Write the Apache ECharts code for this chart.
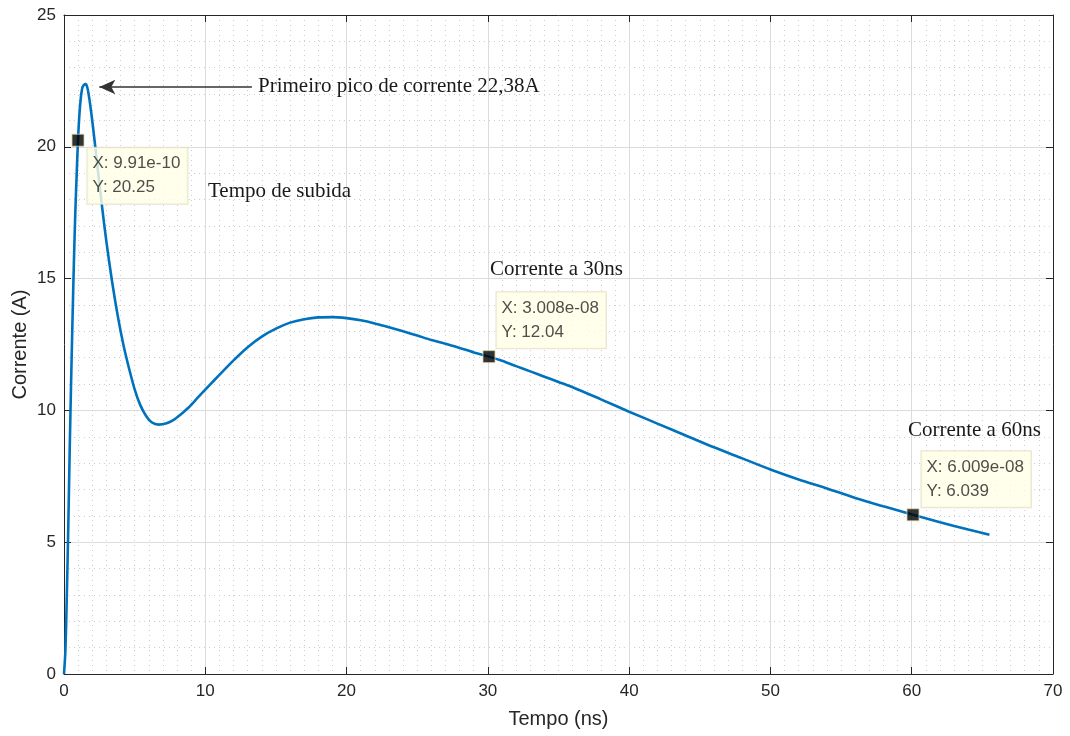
<!DOCTYPE html>
<html>
<head>
<meta charset="utf-8">
<script src="https://cdn.jsdelivr.net/npm/echarts@6/dist/echarts.min.js"></script>
<style>
  html, body { margin: 0; padding: 0; background: #fff; }
  #chart { width: 1070px; height: 736px; }
</style>
</head>
<body>
<div id="chart"></div>
<script>
// Current waveform: time in ns, current in A
const timeNs = [0, 0.1, 0.2, 0.3, 0.4, 0.5, 0.6, 0.7, 0.8, 0.9, 0.991, 1.1, 1.2, 1.3, 1.4, 1.53, 1.65, 1.8, 1.95,
  2.15, 2.4, 2.7, 3.0, 3.4, 3.8, 4.2, 4.6, 5.0, 5.4, 5.8, 6.2, 6.7, 7.2, 7.7, 8.2, 8.8, 9.5, 10.2, 11,
  12, 13, 14, 15, 16, 17, 18, 19, 20, 21, 22, 23, 24, 25, 26, 27, 28, 29, 30.08, 31, 32, 33, 34, 35, 36,
  38, 40, 42, 44, 46, 48, 50, 52, 54, 56, 58, 60.09, 62, 64, 65.5];
const currentA = [0, 0.9, 3.0, 5.5, 8.4, 11.0, 13.4, 15.6, 17.5, 19.0, 20.25, 21.3, 21.9, 22.25, 22.34, 22.38, 22.25, 21.8, 21.2,
  20.3, 19.1, 17.7, 16.4, 14.9, 13.6, 12.5, 11.6, 10.8, 10.2, 9.8, 9.55, 9.46, 9.5, 9.62, 9.82, 10.1, 10.5, 10.9, 11.35,
  11.9, 12.4, 12.8, 13.1, 13.33, 13.46, 13.53, 13.54, 13.5, 13.42, 13.3, 13.15, 13.0, 12.84, 12.67, 12.53, 12.37, 12.2, 12.04, 11.88, 11.68, 11.48, 11.28, 11.08, 10.88,
  10.42, 9.95, 9.5, 9.05, 8.6, 8.18, 7.76, 7.38, 7.04, 6.68, 6.36, 6.039, 5.76, 5.48, 5.28];

// Data tips (time in seconds, current in A)
const tipTimeS = [9.91e-10, 3.008e-8, 6.009e-8];
const tipCurrent = [20.25, 12.04, 6.039];

// Text notes
const noteTexts = ['Primeiro pico de corrente 22,38A', 'Tempo de subida', 'Corrente a 30ns', 'Corrente a 60ns'];

// Axis ticks
const xTicks = { min: 0, max: 70, step: 10 };
const yTicks = { min: 0, max: 25, step: 5 };

function fmtExp(v) {
  const e = Math.floor(Math.log10(Math.abs(v)));
  let m = (v / Math.pow(10, e)).toPrecision(4);
  m = m.replace(/\.?0+$/, '');
  const sign = e < 0 ? '-' : '+';
  const ae = Math.abs(e);
  return m + 'e' + sign + (ae < 10 ? '0' + ae : String(ae));
}
function fmtVal(v) {
  return String(parseFloat(v.toPrecision(4)));
}

const curve = timeNs.map((t, i) => [t, currentA[i]]);
const tips = tipTimeS.map((s, i) => [s * 1e9, tipCurrent[i]]);

const axisColor = '#262626';
const sans = 'Liberation Sans, Arial, sans-serif';
const tickFont = { color: '#262626', fontFamily: sans, fontSize: 17 };
const nameFont = { color: '#262626', fontFamily: sans, fontSize: 20 };
const noteFont = { color: '#1a1a1a', fontFamily: 'Liberation Serif, Times New Roman, serif', fontSize: 21 };

const tipLabelBase = {
  show: true,
  formatter: p => 'X: ' + fmtExp(tipTimeS[p.dataIndex]) + '\nY: ' + fmtVal(tipCurrent[p.dataIndex]),
  backgroundColor: '#ffffe6',
  borderColor: '#dedcc0',
  borderWidth: 1,
  padding: [4, 7, 4, 5],
  color: '#222',
  fontFamily: sans,
  fontSize: 17,
  lineHeight: 24,
  align: 'left',
  verticalAlign: 'top'
};

const tipOffsets = [[16, 14], [14, -58], [15, -57]];

const minorGrid = { show: true, lineStyle: { color: '#cdcdcd', width: 1, type: [1, 4] } };

const chart = echarts.init(document.getElementById('chart'), null, { renderer: 'canvas' });
chart.setOption({
  animation: false,
  backgroundColor: '#ffffff',
  grid: { left: 64, right: 17, top: 15, bottom: 62, containLabel: false, outerBoundsMode: 'none' },
  xAxis: [{
    type: 'value', min: xTicks.min, max: xTicks.max, interval: xTicks.step,
    name: 'Tempo (ns)', nameLocation: 'middle', nameGap: 35,
    nameTextStyle: nameFont,
    axisLine: { onZero: false, lineStyle: { color: axisColor, width: 1 } },
    axisTick: { inside: true, length: 7, lineStyle: { color: axisColor } },
    axisLabel: Object.assign({ margin: 9 }, tickFont),
    splitLine: { show: true, lineStyle: { color: '#dcdcdc', width: 1 } },
    minorTick: { show: false, splitNumber: 10 },
    minorSplitLine: minorGrid
  }, {
    type: 'value', position: 'top', min: xTicks.min, max: xTicks.max, interval: xTicks.step,
    axisLine: { onZero: false, lineStyle: { color: axisColor, width: 1 } },
    axisTick: { inside: true, length: 7, lineStyle: { color: axisColor } },
    axisLabel: { show: false }, splitLine: { show: false }
  }],
  yAxis: [{
    type: 'value', min: yTicks.min, max: yTicks.max, interval: yTicks.step,
    name: 'Corrente (A)', nameLocation: 'middle', nameGap: 34, nameRotate: 90, nameMoveOverlap: false,
    nameTextStyle: nameFont,
    axisLine: { show: true, onZero: false, lineStyle: { color: axisColor, width: 1 } },
    axisTick: { show: true, inside: true, length: 7, lineStyle: { color: axisColor } },
    axisLabel: Object.assign({ margin: 8 }, tickFont),
    splitLine: { show: true, lineStyle: { color: '#dcdcdc', width: 1 } },
    minorTick: { show: false, splitNumber: 5 },
    minorSplitLine: minorGrid
  }, {
    type: 'value', position: 'right', min: yTicks.min, max: yTicks.max, interval: yTicks.step,
    axisLine: { show: true, onZero: false, lineStyle: { color: axisColor, width: 1 } },
    axisTick: { show: true, inside: true, length: 7, lineStyle: { color: axisColor } },
    axisLabel: { show: false }, splitLine: { show: false }
  }],
  series: [{
    name: 'Corrente',
    type: 'line',
    data: curve,
    showSymbol: false,
    smooth: 0.3,
    lineStyle: { color: '#0072bd', width: 2.6 },
    z: 3,
    markLine: {
      silent: true,
      symbol: ['none', 'arrow'],
      symbolSize: [11, 16],
      label: { show: false },
      lineStyle: { color: '#333333', width: 1.5, type: 'solid' },
      data: [[{ coord: [13.3, 22.27] }, { coord: [2.5, 22.27] }]]
    },
    markPoint: {
      silent: true,
      symbol: 'circle',
      symbolSize: 0,
      data: [
        { coord: [13.73, 22.27], label: { formatter: noteTexts[0] } },
        { coord: [10.19, 18.32], label: { formatter: noteTexts[1] } },
        { coord: [30.15, 15.33], label: { formatter: noteTexts[2] } },
        { coord: [59.73, 9.22], label: { formatter: noteTexts[3] } }
      ],
      label: Object.assign({ show: true, position: 'right', distance: 0, align: 'left', verticalAlign: 'middle' }, noteFont)
    }
  }, {
    name: 'Data tips',
    type: 'scatter',
    data: tips.map((p, i) => ({
      value: p,
      label: Object.assign({}, tipLabelBase, { position: tipOffsets[i] })
    })),
    symbol: 'rect',
    symbolSize: 12,
    itemStyle: { color: '#000000', borderColor: '#d8d2a0', borderWidth: 1 },
    z: 10
  }]
});
</script>
</body>
</html>
